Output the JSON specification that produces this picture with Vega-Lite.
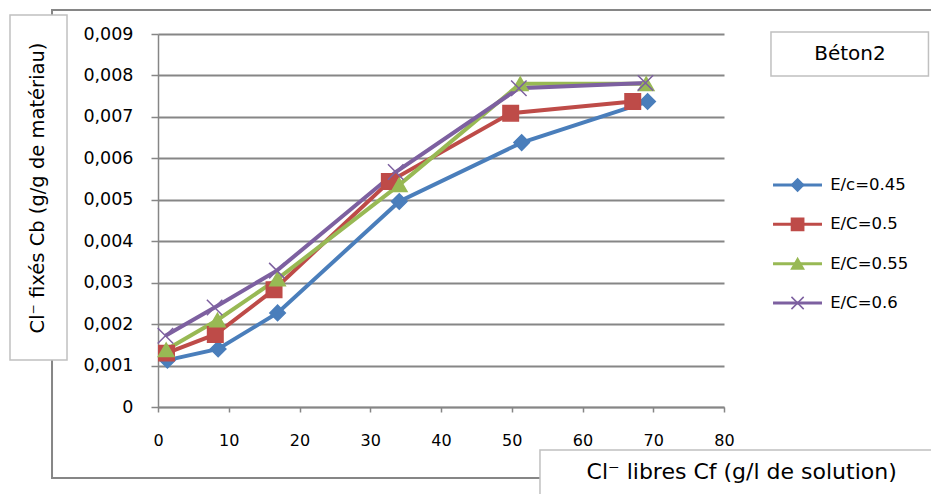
{
  "$schema": "https://vega.github.io/schema/vega-lite/v6.json",
  "width": 566,
  "height": 373,
  "autosize": {"type": "none"},
  "padding": {"left": 158, "top": 34, "right": 207, "bottom": 87},
  "background": "white",
  "config": {"view": {"stroke": null}, "font": "DejaVu Sans"},
  "datasets": {
    "mesures": [
      {"serie": "E/c=0.45", "cf": 1.33, "cb": 0.00113},
      {"serie": "E/c=0.45", "cf": 8.5, "cb": 0.00140},
      {"serie": "E/c=0.45", "cf": 16.9, "cb": 0.00227},
      {"serie": "E/c=0.45", "cf": 34.1, "cb": 0.00496},
      {"serie": "E/c=0.45", "cf": 51.4, "cb": 0.00638},
      {"serie": "E/c=0.45", "cf": 69.2, "cb": 0.00737},
      {"serie": "E/C=0.5", "cf": 1.2, "cb": 0.00130},
      {"serie": "E/C=0.5", "cf": 8.1, "cb": 0.00175},
      {"serie": "E/C=0.5", "cf": 16.4, "cb": 0.00283},
      {"serie": "E/C=0.5", "cf": 32.7, "cb": 0.00544},
      {"serie": "E/C=0.5", "cf": 49.85, "cb": 0.00709},
      {"serie": "E/C=0.5", "cf": 67.1, "cb": 0.00737},
      {"serie": "E/C=0.55", "cf": 1.15, "cb": 0.00138},
      {"serie": "E/C=0.55", "cf": 8.4, "cb": 0.00210},
      {"serie": "E/C=0.55", "cf": 16.9, "cb": 0.00309},
      {"serie": "E/C=0.55", "cf": 34.1, "cb": 0.00536},
      {"serie": "E/C=0.55", "cf": 51.2, "cb": 0.00780},
      {"serie": "E/C=0.55", "cf": 69.0, "cb": 0.00780},
      {"serie": "E/C=0.6", "cf": 1.05, "cb": 0.00172},
      {"serie": "E/C=0.6", "cf": 8.0, "cb": 0.00240},
      {"serie": "E/C=0.6", "cf": 16.8, "cb": 0.00329},
      {"serie": "E/C=0.6", "cf": 33.6, "cb": 0.00567},
      {"serie": "E/C=0.6", "cf": 51.0, "cb": 0.00769},
      {"serie": "E/C=0.6", "cf": 68.9, "cb": 0.00782}
    ],
    "series": [
      {"serie": "E/c=0.45"},
      {"serie": "E/C=0.5"},
      {"serie": "E/C=0.55"},
      {"serie": "E/C=0.6"}
    ],
    "one": [{}]
  },
  "layer": [
    {
      "layer": [
        {
          "data": {"name": "one"},
          "mark": {"type": "rect", "fill": null, "stroke": "#868686", "strokeWidth": 2, "clip": false},
          "encoding": {
            "x": {"datum": -14.98, "type": "quantitative", "scale": {"domain": [0, 80], "nice": false}},
            "x2": {"datum": 112},
            "y": {"datum": 0.009579, "type": "quantitative", "scale": {"domain": [0, 0.009], "nice": false}},
            "y2": {"datum": -0.001713}
          }
        },
        {
          "data": {"name": "one"},
          "mark": {"type": "rect", "fill": "white", "stroke": "#c0c0c0", "strokeWidth": 1.5, "clip": false},
          "encoding": {
            "x": {"datum": -20.92, "type": "quantitative"},
            "x2": {"datum": -12.86},
            "y": {"datum": 0.009459, "type": "quantitative"},
            "y2": {"datum": 0.001134}
          }
        },
        {
          "data": {"name": "one"},
          "mark": {"type": "rect", "fill": "white", "stroke": "#c0c0c0", "strokeWidth": 1.5, "clip": false},
          "encoding": {
            "x": {"datum": 53.99, "type": "quantitative"},
            "x2": {"datum": 112},
            "y": {"datum": -0.001038, "type": "quantitative"},
            "y2": {"datum": -0.0025}
          }
        },
        {
          "data": {"name": "one"},
          "mark": {"type": "rect", "fill": "white", "stroke": "#c0c0c0", "strokeWidth": 1.5, "clip": false},
          "encoding": {
            "x": {"datum": 86.64, "type": "quantitative"},
            "x2": {"datum": 108.9},
            "y": {"datum": 0.009048, "type": "quantitative"},
            "y2": {"datum": 0.007987}
          }
        },
        {
          "data": {"name": "one"},
          "mark": {"type": "text", "text": "Béton2", "fontSize": 20, "color": "#000000", "align": "center", "baseline": "middle"},
          "encoding": {
            "x": {"datum": 97.8, "type": "quantitative"},
            "y": {"datum": 0.008518, "type": "quantitative"}
          }
        },
        {
          "data": {"name": "one"},
          "mark": {"type": "text", "text": "Cl⁻ fixés Cb (g/g de matériau)", "fontSize": 19.5, "angle": 270, "color": "#000000", "align": "center", "baseline": "middle"},
          "encoding": {
            "x": {"datum": -16.96, "type": "quantitative"},
            "y": {"datum": 0.005284, "type": "quantitative"}
          }
        },
        {
          "data": {"name": "one"},
          "mark": {"type": "text", "text": "Cl⁻ libres Cf (g/l de solution)", "fontSize": 22, "color": "#000000", "align": "center", "baseline": "middle"},
          "encoding": {
            "x": {"datum": 82.5, "type": "quantitative"},
            "y": {"datum": -0.001568, "type": "quantitative"}
          }
        },
        {
          "data": {"name": "mesures"},
          "mark": {"type": "line", "strokeWidth": 4},
          "encoding": {
            "x": {"field": "cf", "type": "quantitative", "title": null,
              "axis": {"values": [0, 10, 20, 30, 40, 50, 60, 70, 80], "grid": false, "labelFlush": false, "domainColor": "#868686", "domainWidth": 1.5, "tickColor": "#868686", "tickWidth": 1.5, "tickSize": 5, "labelFontSize": 16, "labelColor": "#000000", "labelPadding": 20, "title": null}},
            "y": {"field": "cb", "type": "quantitative", "title": null,
              "axis": {"values": [0, 0.001, 0.002, 0.003, 0.004, 0.005, 0.006, 0.007, 0.008, 0.009], "grid": true, "gridColor": "#868686", "gridWidth": 2, "gridOpacity": 1, "domainColor": "#868686", "domainWidth": 1.5, "tickColor": "#868686", "tickWidth": 1.5, "tickSize": 7, "labelFontSize": 17.5, "labelColor": "#000000", "labelPadding": 18, "title": null,
                "labelExpr": "datum.value == 0 ? '0' : replace(format(datum.value, '.3f'), '.', ',')"}},
            "color": {"field": "serie", "type": "nominal", "legend": null,
              "scale": {"domain": ["E/c=0.45", "E/C=0.5", "E/C=0.55", "E/C=0.6"], "range": ["#4a7ebb", "#be4b48", "#98b954", "#7d60a0"]}},
            "detail": {"field": "serie"}
          }
        },
        {
          "data": {"name": "mesures"},
          "mark": {"type": "point", "filled": true, "size": 240, "opacity": 1, "strokeWidth": 1.5},
          "encoding": {
            "x": {"field": "cf", "type": "quantitative"},
            "y": {"field": "cb", "type": "quantitative"},
            "color": {"field": "serie", "type": "nominal", "legend": null},
            "stroke": {"field": "serie", "type": "nominal", "legend": null,
              "scale": {"domain": ["E/c=0.45", "E/C=0.5", "E/C=0.55", "E/C=0.6"], "range": ["#4a7ebb", "#be4b48", "#98b954", "#7d60a0"]}},
            "shape": {"field": "serie", "type": "nominal", "legend": null,
              "scale": {"domain": ["E/c=0.45", "E/C=0.5", "E/C=0.55", "E/C=0.6"], "range": ["diamond", "square", "triangle-up", "M-1,-1L1,1M-1,1L1,-1"]}}
          }
        }
      ]
    },
    {
      "data": {"name": "series"},
      "encoding": {
        "y": {"field": "serie", "type": "nominal", "axis": null,
          "scale": {"type": "point", "domain": ["E/c=0.45", "E/C=0.5", "E/C=0.55", "E/C=0.6"], "range": [151, 269], "padding": 0}}
      },
      "layer": [
        {
          "mark": {"type": "rule", "strokeWidth": 3},
          "encoding": {
            "x": {"datum": 86.93, "type": "quantitative"},
            "x2": {"datum": 93.85},
            "color": {"field": "serie", "type": "nominal", "legend": null}
          }
        },
        {
          "mark": {"type": "point", "filled": true, "size": 150, "opacity": 1, "strokeWidth": 1.5},
          "encoding": {
            "x": {"datum": 90.4, "type": "quantitative"},
            "color": {"field": "serie", "type": "nominal", "legend": null},
            "stroke": {"field": "serie", "type": "nominal", "legend": null},
            "shape": {"field": "serie", "type": "nominal", "legend": null}
          }
        },
        {
          "mark": {"type": "text", "align": "left", "baseline": "middle", "fontSize": 16.5, "color": "#000000"},
          "encoding": {
            "x": {"datum": 95.0, "type": "quantitative"},
            "text": {"field": "serie"}
          }
        }
      ]
    }
  ],
  "resolve": {"scale": {"y": "independent"}, "axis": {"y": "independent"}}
}
